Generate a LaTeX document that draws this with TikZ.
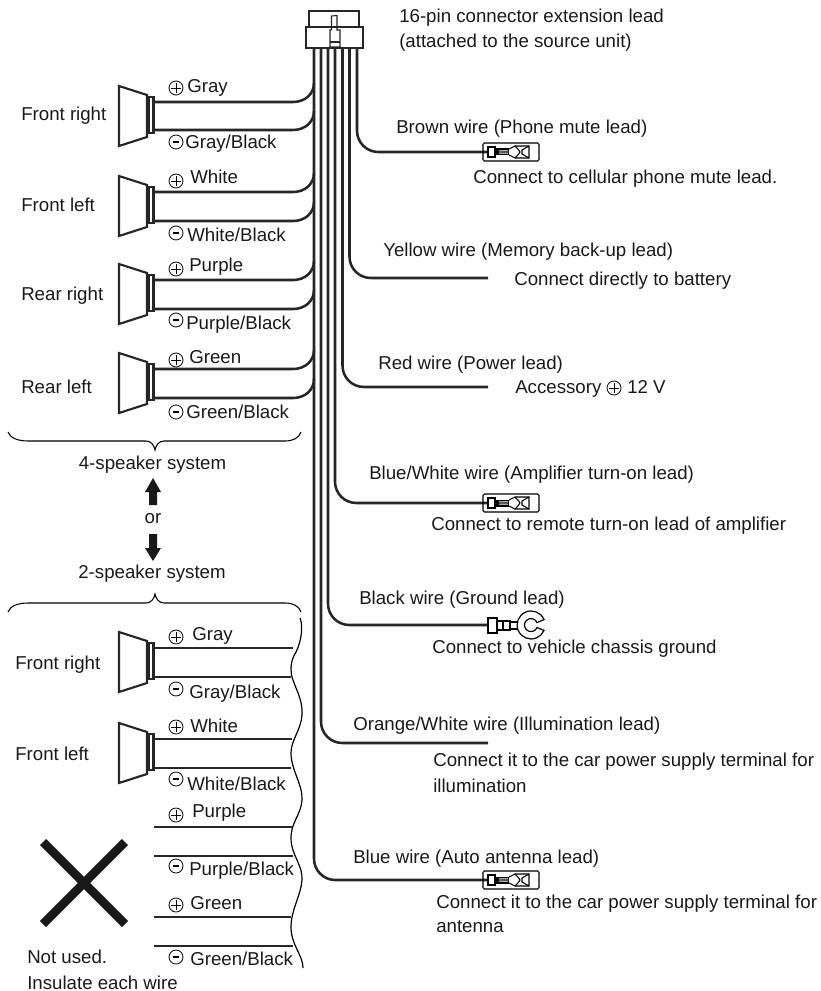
\documentclass[tikz,border=0pt]{standalone}
\usepackage{fontspec}
\setmainfont{Liberation Sans}
\tikzset{
  wire/.style={line width=1.9pt,color=black!85},
  outline/.style={line width=1.6pt,color=black!85,line join=miter},
  fine/.style={line width=0.8pt,color=black!85},
  label/.style={anchor=base west,inner sep=0pt,yshift=-4.5pt,font=\fontsize{14pt}{16pt}\selectfont,text=black!90},
  clabel/.style={anchor=base,inner sep=0pt,yshift=-4.5pt,font=\fontsize{14pt}{16pt}\selectfont,text=black!90},
  pics/plussign/.style={code={
    \draw[line width=0.6pt] (0,0) circle (7);
    \draw[line width=0.6pt] (-5,0) -- (5,0) (0,-5) -- (0,5);}},
  pics/minussign/.style={code={
    \draw[line width=0.6pt] (0,0) circle (7);
    \draw[line width=1pt] (-3,0) -- (3,0);}},
  pics/speaker/.style={code={
    \draw[outline] (119,-16) -- (147,-7) -- (147,35) -- (119,44) -- cycle;
    \draw[outline,fill=white] (148.5,-5) rectangle (153.5,31);}},
  pics/terminal/.style={code={
    \draw[line width=0.8pt,rounded corners=1pt] (-5,-9) rectangle (51,9);
    \draw[line width=0.8pt] (0,-5) rectangle (7,5);
    \fill (7,-3.5) rectangle (21,3.5);
    \fill[white] (11,-1.6) rectangle (20,-0.6) (11,0.6) rectangle (20,1.6);
    \draw[line width=0.8pt] (21,-3) -- (27,-6) -- (41,-6) -- (41,6) -- (27,6) -- (21,3);
    \draw[line width=0.8pt] (27,-6) .. controls (30,-3) and (31,-2) .. (32,0) .. controls (31,2) and (30,3) .. (27,6)
       (41,-6) -- (34,-2) -- (34,2) -- (41,6);}}
}
\begin{document}
\begin{tikzpicture}[x=0.75pt,y=-0.75pt]
\useasboundingbox (0,0) rectangle (820,991);
% connector
\draw[outline] (309,27) -- (309,11) -- (359,11) -- (359,27);
\draw[outline] (306,27) rectangle (363,48);
\draw[fine] (331.5,30) -- (331.5,16) -- (337,15.5) -- (337,30) -- (340,30) -- (340,47) -- (330,47) -- (330,30) -- (331.5,30);
\draw[fine] (330,42) -- (340,42);
% named wire ends
\foreach \n/\x in {1/314,2/321,3/328,4/335,5/342.5,6/349.5,7/357}{\coordinate (b\n) at (\x,48);}
\coordinate (e7) at (488,152); \coordinate (e6) at (488,278); \coordinate (e5) at (488,387);
\coordinate (e4) at (488,503); \coordinate (e3) at (488,625); \coordinate (e2) at (488,743);
\coordinate (e1) at (488,880);
\foreach \n in {1,...,7}{
  \draw[wire,rounded corners=16pt] (b\n) |- (e\n);
}
% terminals
\path (e7) pic {terminal} (e4) pic {terminal} (e1) pic {terminal};
\draw[line width=0.8pt] (488,618) rectangle (497,633);
\draw[line width=0.8pt] (497,621) rectangle (510,630);
\draw[line width=0.8pt] (503,621) -- (503,630);
\draw[line width=0.8pt] (510,622) -- (517.5,622) (510,629) -- (517.5,629);
\draw[line width=0.9pt,fill=white] (544,619.5) arc[start angle=-23,end angle=-337,radius=14]
  -- (537,627.5) arc[start angle=22,end angle=338,radius=6.5] -- cycle;
% left wires, four-speaker system
\foreach \n/\y in {a/102,b/130,c/192,d/221,e/280,f/309,g/369,h/398}{
  \coordinate (ls\n) at (154,\y);
  \draw[wire] (ls\n) -- (293,\y) .. controls (305,\y) and (314,\y-8) .. (314,\y-19);
}
\foreach \y in {102,192,280,369,648,739}{ \path (0,\y) pic {speaker}; }
% two-speaker system
\foreach \n/\y/\e in {i/648/293,j/677/291,k/739/292,l/768/291,m/827/292,n/856/293,o/917/291,p/946/293}{
  \coordinate (ts\n) at (154,\y);
  \coordinate (te\n) at (\e,\y);
  \draw[wire] (ts\n) -- (te\n);
}
% wavy cut line
\draw[line width=0.9pt] (300,618) .. controls (303,625) and (302,640) .. (296,652)
  .. controls (291,660) and (290,668) .. (292,677)
  .. controls (296,690) and (303,700) .. (302,715)
  .. controls (301,730) and (291,740) .. (291,753)
  .. controls (291,770) and (303,785) .. (302,800)
  .. controls (301,815) and (291,822) .. (291,838)
  .. controls (291,855) and (303,865) .. (302,880)
  .. controls (301,895) and (291,910) .. (291,927)
  .. controls (291,945) and (303,955) .. (303,968);
% braces
\draw[line width=0.8pt] (8,432) .. controls (10,438) and (18,441) .. (28,441) -- (146,441) .. controls (151,441) and (154,445) .. (155,450)
  .. controls (156,445) and (159,441) .. (164,441) -- (285,441) .. controls (293,441) and (299,438) .. (301,432);
\draw[line width=0.8pt] (8,612) .. controls (10,606) and (18,603) .. (28,603) -- (146,603) .. controls (151,603) and (154,599) .. (155,594)
  .. controls (156,599) and (159,603) .. (164,603) -- (285,603) .. controls (293,603) and (299,606) .. (301,612);
% arrows
\fill[black!90] (153,478) -- (161,492) -- (157,492) -- (157,505) -- (149,505) -- (149,492) -- (145,492) -- cycle;
\fill[black!90] (153,561) -- (161,548) -- (157,548) -- (157,534) -- (149,534) -- (149,548) -- (145,548) -- cycle;
% cross
\draw[line width=6.4pt,color=black!90] (43,842) -- (125,924) (43,924) -- (125,842);
% signs
\foreach \x/\y in {176/88,176/181,176/269,176/360,176/637,176/727,176/815,176/905,614/388}{ \path (\x,\y) pic {plussign}; }
\foreach \x/\y in {176/142,176/233,176/320,176/412,176/689,176/779,176/866,176/957}{ \path (\x,\y) pic {minussign}; }
% labels
\node[label] (l01) at (399,17) {16-pin connector extension lead};
\node[label] (l02) at (399,42) {(attached to the source unit)};
\node[label] (l03) at (21,115) {Front right};
\node[label] (l04) at (21,206) {Front left};
\node[label] (l05) at (21,294) {Rear right};
\node[label] (l06) at (21,387) {Rear left};
\node[label] (l07) at (187,87) {Gray};
\node[label] (l08) at (185,143) {Gray/Black};
\node[label] (l09) at (190,178) {White};
\node[label] (l10) at (187,236) {White/Black};
\node[label] (l11) at (189,265) {Purple};
\node[label] (l12) at (186,323) {Purple/Black};
\node[label] (l13) at (189,357) {Green};
\node[label] (l14) at (186,412) {Green/Black};
\node[clabel] (l15) at (152.5,463) {4-speaker system};
\node[clabel] (l16) at (153,517) {or};
\node[clabel] (l17) at (152,572) {2-speaker system};
\node[label] (l18) at (15,663) {Front right};
\node[label] (l19) at (15,754) {Front left};
\node[label] (l20) at (192,634) {Gray};
\node[label] (l21) at (189,692) {Gray/Black};
\node[label] (l22) at (190,726) {White};
\node[label] (l23) at (187,784) {White/Black};
\node[label] (l24) at (192,811) {Purple};
\node[label] (l25) at (189,869) {Purple/Black};
\node[label] (l26) at (190,903) {Green};
\node[label] (l27) at (190,959) {Green/Black};
\node[label] (l28) at (27,957) {Not used.};
\node[label] (l29) at (27,983) {Insulate each wire};
\node[label] (r01) at (396,128) {Brown wire (Phone mute lead)};
\node[label] (r02) at (473,178) {Connect to cellular phone mute lead.};
\node[label] (r03) at (383,250) {Yellow wire (Memory back-up lead)};
\node[label] (r04) at (514,279) {Connect directly to battery};
\node[label] (r05) at (378,363) {Red wire (Power lead)};
\node[label] (r06) at (515,387) {Accessory};
\node[label] (r07) at (627,387) {12 V};
\node[label] (r08) at (369,473) {Blue/White wire (Amplifier turn-on lead)};
\node[label] (r09) at (431,524) {Connect to remote turn-on lead of amplifier};
\node[label] (r10) at (359,598) {Black wire (Ground lead)};
\node[label] (r11) at (432,647) {Connect to vehicle chassis ground};
\node[label] (r12) at (353,724) {Orange/White wire (Illumination lead)};
\node[label] (r13) at (433,760) {Connect it to the car power supply terminal for};
\node[label] (r14) at (433,786) {illumination};
\node[label] (r15) at (353,857) {Blue wire (Auto antenna lead)};
\node[label] (r16) at (436,902) {Connect it to the car power supply terminal for};
\node[label] (r17) at (436,926) {antenna};
\end{tikzpicture}
\end{document}
